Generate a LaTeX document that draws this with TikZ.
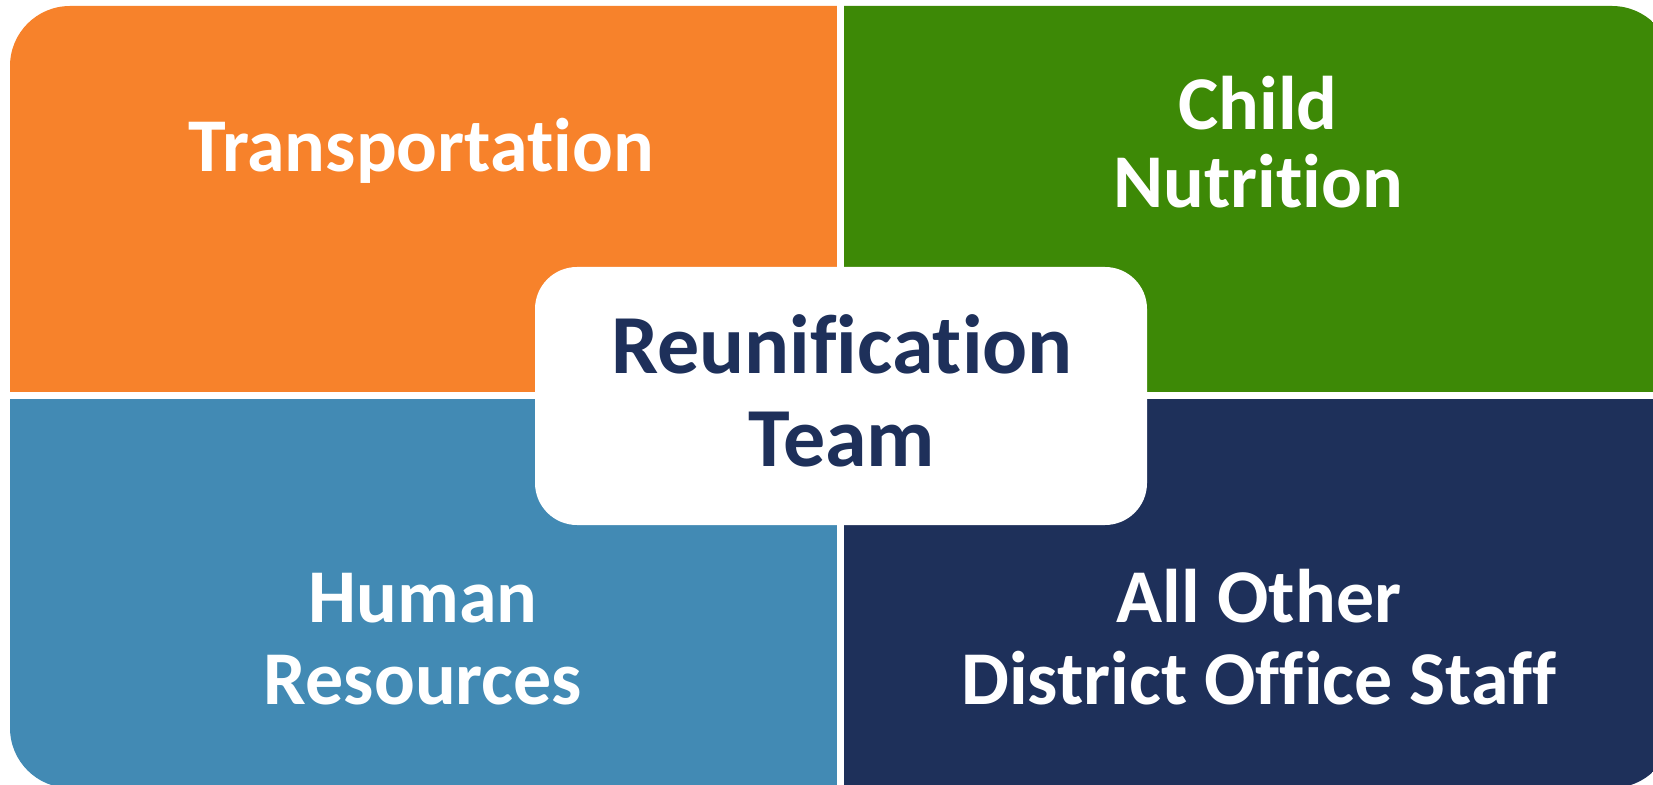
\documentclass[tikz,border=0pt]{standalone}
\usepackage{fontspec}
\setmainfont{Carlito}[Ligatures={NoCommon}]
\definecolor{orgc}{RGB}{247,130,43}
\definecolor{grnc}{RGB}{61,137,6}
\definecolor{bluc}{RGB}{66,138,180}
\definecolor{navc}{RGB}{30,48,90}
\tikzset{
  lbl/.style={anchor=base, text=white, font=\fontsize{38}{38}\selectfont\bfseries, inner sep=0pt},
  ctr/.style={anchor=base, text=navc, font=\fontsize{42}{42}\selectfont\bfseries, inner sep=0pt}
}
\begin{document}
\begin{tikzpicture}[x=0.5pt,y=-0.5pt]
\useasboundingbox (0,0) rectangle (1653,785);
\begin{scope}
  \clip[rounded corners=30pt] (10,6) rectangle (1672,788);
  \fill[orgc] (0,0) rectangle (837,392);
  \fill[grnc] (844,0) rectangle (1700,392);
  \fill[bluc] (0,399) rectangle (837,800);
  \fill[navc] (844,399) rectangle (1700,800);
\end{scope}
\fill[white, rounded corners=21pt] (535,267) rectangle (1147,525);
\node[lbl] (trans) at (421,172) {Transportation};
\node[lbl] (child) at (1258,130) {Child};
\node[lbl] (nutr) at (1258,208) {Nutrition};
\node[lbl] (human) at (423,622) {Human};
\node[lbl] (resou) at (423,704) {Resources};
\node[lbl] (allot) at (1259,622) {All Other};
\node[lbl] (distr) at (1259,704) {District Office Staff};
\node[ctr] (reuni) at (842,374) {Reunification};
\node[ctr] (team) at (842,467) {Team};
\end{tikzpicture}
\end{document}
